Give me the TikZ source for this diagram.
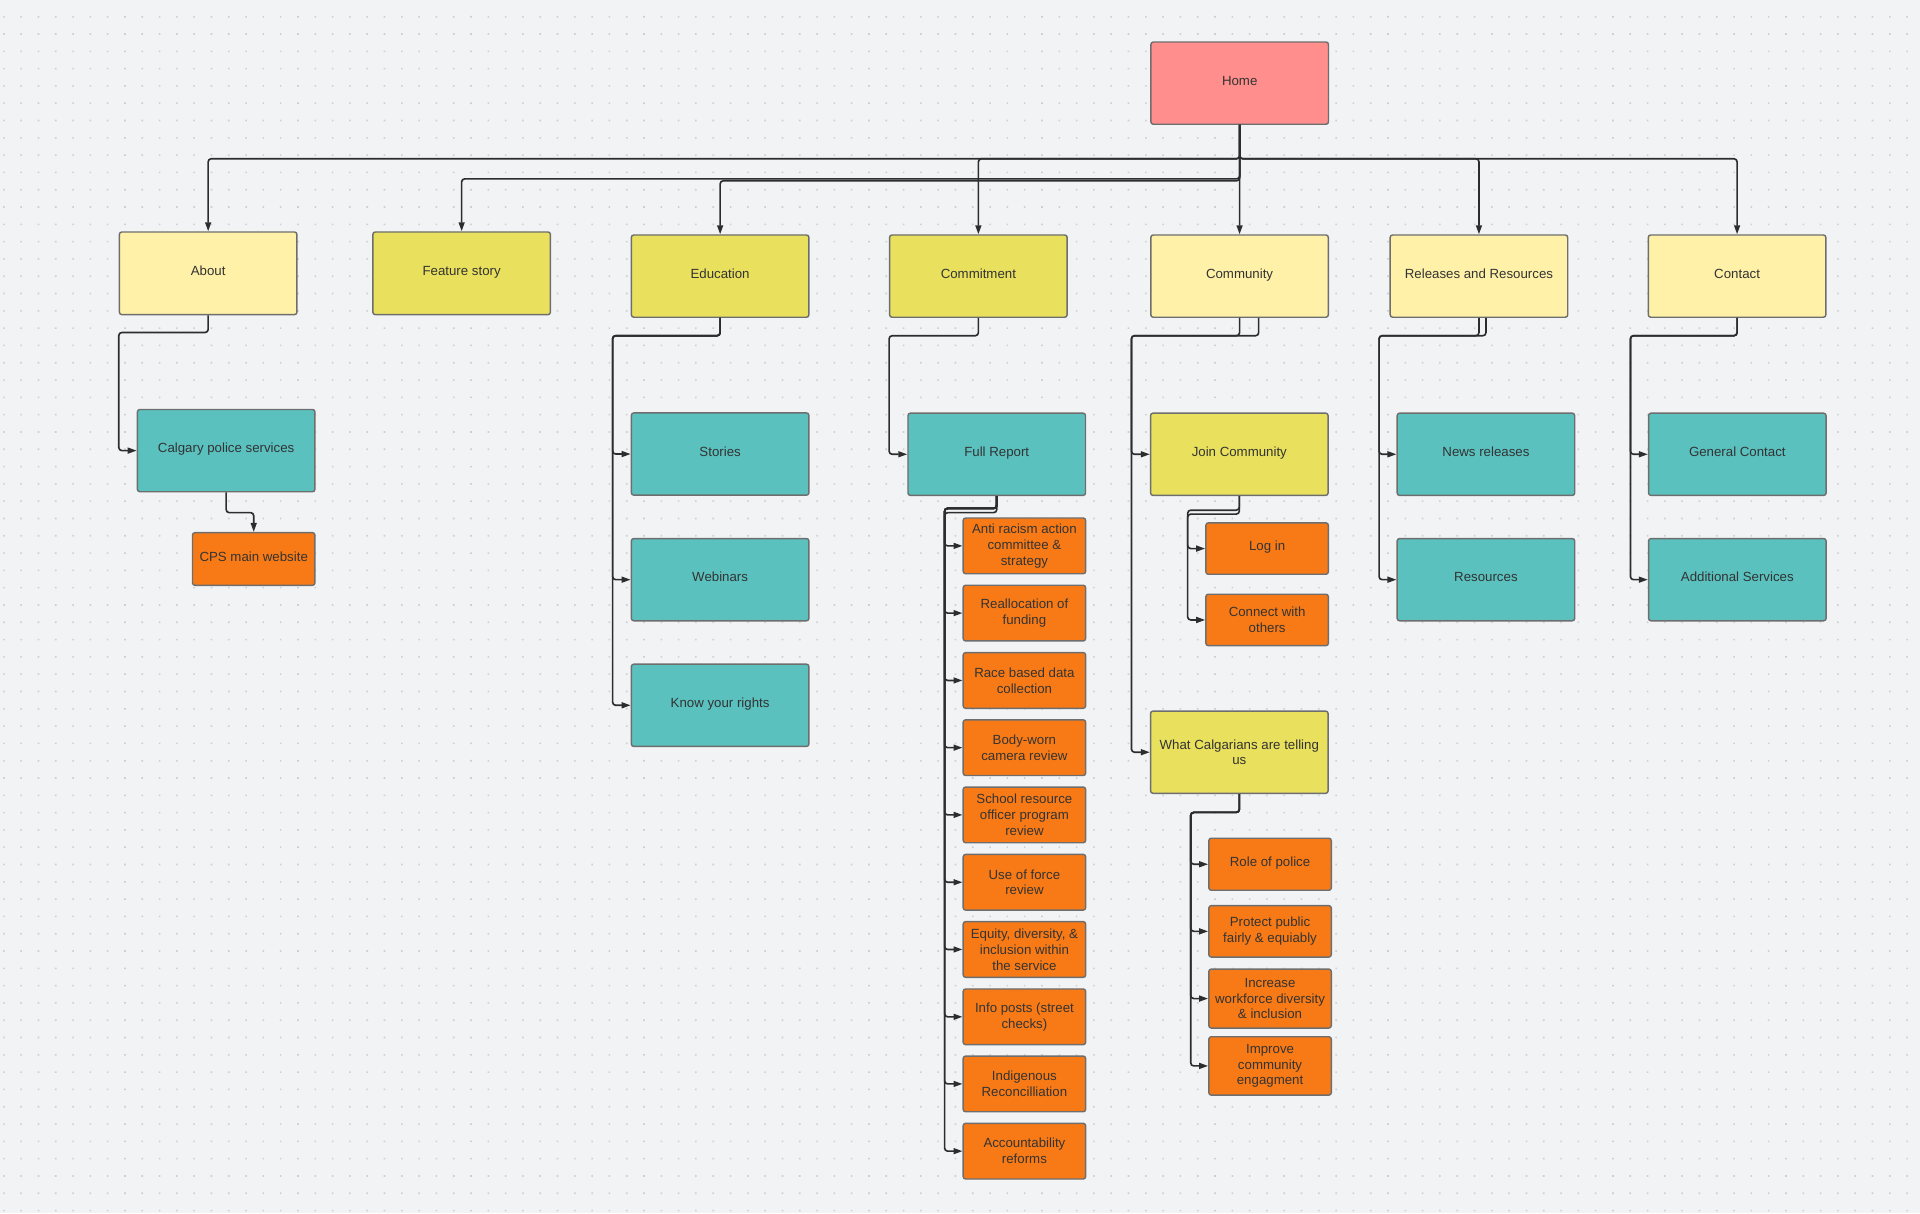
\documentclass[tikz,border=0pt]{standalone}
\usepackage{fontspec}
\setmainfont{Liberation Sans}
\usetikzlibrary{arrows.meta, calc}
\definecolor{canvas}{RGB}{242, 243, 245}
\definecolor{griddot}{RGB}{204, 207, 212}
\definecolor{homepink}{RGB}{255, 142, 140}
\definecolor{paleyellow}{RGB}{255, 241, 168}
\definecolor{sectyellow}{RGB}{233, 225, 93}
\definecolor{pageteal}{RGB}{90, 193, 191}
\definecolor{itemorange}{RGB}{248, 122, 22}
\definecolor{edgegray}{RGB}{110, 110, 110}
\definecolor{linkgray}{RGB}{45, 45, 45}
\definecolor{inkgray}{RGB}{51, 51, 51}

\begin{document}
\begin{tikzpicture}[x=0.6pt, y=-0.6pt,
  box/.style={draw=edgegray, line width=0.7pt, rounded corners=1.2pt, inner sep=1pt, align=center, text=inkgray, font=\fontsize{6.5}{7.75}\selectfont},
  page/.style={box, minimum width=87pt, minimum height=40.3pt},
  item/.style={box, minimum width=60pt, minimum height=27.3pt},
  oneline/.style={text height=4.7pt, text depth=2.5pt},
  link/.style={draw=linkgray, line width=0.8pt, rounded corners=1.5pt, -{Triangle[length=4.4pt, width=2.9pt]}}]

  % Canvas with dot grid
  \fill[canvas] (0, 0) rectangle (1568, 991);
  \foreach \j in {0,...,69} {
    \fill[griddot] \foreach \i in {0,...,110} {(2.5+14.13*\i, 13+14.13*\j) rectangle ++(1.3, 1.3)};
  }

  % Home
  \node[page, oneline, fill=homepink] (home) at (1012.4, 67.9) {Home};

  % Sections
  \node[page, oneline, fill=paleyellow, minimum height=40.5pt] (about) at (170, 223.2) {About};
  \node[page, oneline, fill=sectyellow, minimum height=40.5pt] (feature) at (377, 223.2) {Feature story};
  \node[page, oneline, fill=sectyellow] (education) at (588.1, 225.5) {Education};
  \node[page, oneline, fill=sectyellow] (commitment) at (799, 225.5) {Commitment};
  \node[page, oneline, fill=paleyellow] (community) at (1012.3, 225.5) {Community};
  \node[page, oneline, fill=paleyellow] (releases) at (1207.8, 225.5) {Releases and Resources};
  \node[page, oneline, fill=paleyellow] (contact) at (1418.6, 225.5) {Contact};

  % About pages
  \node[page, oneline, fill=pageteal] (calgary) at (184.7, 368) {Calgary police services};
  \node[item, oneline, fill=itemorange, minimum height=25.8pt] (cpsweb) at (207.2, 456.5) {CPS main website};

  % Education pages
  \node[page, oneline, fill=pageteal] (stories) at (588.1, 370.8) {Stories};
  \node[page, oneline, fill=pageteal] (webinars) at (588.1, 473.4) {Webinars};
  \node[page, oneline, fill=pageteal] (rights) at (588.1, 576) {Know your rights};

  % Commitment pages
  \node[page, oneline, fill=pageteal] (fullreport) at (814, 371) {Full Report};
  \node[item, fill=itemorange] (antiracism) at (836.6, 445.8) {Anti racism action\\committee \&\\strategy};
  \node[item, fill=itemorange] (realloc) at (836.6, 500.7) {Reallocation of\\funding};
  \node[item, fill=itemorange] (racedata) at (836.6, 555.7) {Race based data\\collection};
  \node[item, fill=itemorange] (bodycam) at (836.6, 610.6) {Body-worn\\camera review};
  \node[item, fill=itemorange] (schoolres) at (836.6, 665.5) {School resource\\officer program\\review};
  \node[item, fill=itemorange] (useforce) at (836.6, 720.5) {Use of force\\review};
  \node[item, fill=itemorange] (equity) at (836.6, 775.4) {Equity, diversity, \&\\inclusion within\\the service};
  \node[item, fill=itemorange] (infoposts) at (836.6, 830.4) {Info posts (street\\checks)};
  \node[item, fill=itemorange] (indigenous) at (836.6, 885.2) {Indigenous\\Reconcilliation};
  \node[item, fill=itemorange] (account) at (836.6, 940.1) {Accountability\\reforms};

  % Community pages
  \node[page, oneline, fill=sectyellow] (join) at (1012.1, 371) {Join Community};
  \node[item, oneline, fill=itemorange, minimum height=25.2pt] (login) at (1034.8, 448) {Log in};
  \node[item, fill=itemorange, minimum height=25.2pt] (connect) at (1034.8, 506.3) {Connect with\\others};
  \node[page, fill=sectyellow] (calgarians) at (1012.1, 614.3) {What Calgarians are telling\\us};
  \node[item, oneline, fill=itemorange, minimum height=25.5pt] (role) at (1037.2, 705.8) {Role of police};
  \node[item, fill=itemorange, minimum height=25.2pt] (protect) at (1037.2, 760.6) {Protect public\\fairly \& equiably};
  \node[item, fill=itemorange, minimum height=28.9pt] (increase) at (1037.2, 815.5) {Increase\\workforce diversity\\\& inclusion};
  \node[item, fill=itemorange, minimum height=28.6pt] (improve) at (1037.2, 870.5) {Improve\\community\\engagment};

  % Releases and contact pages
  \node[page, oneline, fill=pageteal] (news) at (1213.5, 371) {News releases};
  \node[page, oneline, fill=pageteal] (resources) at (1213.5, 473.4) {Resources};
  \node[page, oneline, fill=pageteal] (general) at (1418.8, 371) {General Contact};
  \node[page, oneline, fill=pageteal] (additional) at (1418.8, 473.4) {Additional Services};

  % Home to sections
  \draw[link] (home.south) -- ++(0, 27.6) -| (about.north);
  \draw[link] (home.south) -- ++(0, 44) -| (feature.north);
  \draw[link] (home.south) -- ++(0, 45.6) -| (education.north);
  \draw[link] (home.south) -- ++(0, 27.6) -| (commitment.north);
  \draw[link] (home.south) -- (community.north);
  \draw[link] (home.south) -- ++(0, 27.6) -| (releases.north);
  \draw[link] (home.south) -- ++(0, 27.6) -| (contact.north);

  % About
  \draw[link] (about.south) -- ++(0, 14) -| ($(calgary.west)+(-14.6, 0)$) -- (calgary.west);
  \draw[link] (calgary.south) -- ++(0, 16.5) -| (cpsweb.north);

  % Education
  \draw[link] (education.south) -- ++(0, 14.5) -| ($(stories.west)+(-14.7, 0)$) -- (stories.west);
  \draw[link] (education.south) -- ++(0, 14.5) -| ($(webinars.west)+(-14.7, 0)$) -- (webinars.west);
  \draw[link] (education.south) -- ++(0, 14.5) -| ($(rights.west)+(-14.7, 0)$) -- (rights.west);

  % Commitment
  \draw[link] (commitment.south) -- ++(0, 14.5) -| ($(fullreport.west)+(-14.8, 0)$) -- (fullreport.west);
  \draw[link] (fullreport.south) -- ++(0, 13.5) -| ($(antiracism.west)+(-14.6, 0)$) -- (antiracism.west);
  \draw[link] (fullreport.south) -- ++(0, 10) -| ($(realloc.west)+(-14.6, 0)$) -- (realloc.west);
  \draw[link] (fullreport.south) -- ++(0, 10) -| ($(racedata.west)+(-14.6, 0)$) -- (racedata.west);
  \draw[link] (fullreport.south) -- ++(0, 10) -| ($(bodycam.west)+(-14.6, 0)$) -- (bodycam.west);
  \draw[link] (fullreport.south) -- ++(0, 10) -| ($(schoolres.west)+(-14.6, 0)$) -- (schoolres.west);
  \draw[link] (fullreport.south) -- ++(0, 10) -| ($(useforce.west)+(-14.6, 0)$) -- (useforce.west);
  \draw[link] (fullreport.south) -- ++(0, 10) -| ($(equity.west)+(-14.6, 0)$) -- (equity.west);
  \draw[link] (fullreport.south) -- ++(0, 10) -| ($(infoposts.west)+(-14.6, 0)$) -- (infoposts.west);
  \draw[link] (fullreport.south) -- ++(0, 10) -| ($(indigenous.west)+(-14.6, 0)$) -- (indigenous.west);
  \draw[link] (fullreport.south) -- ++(0, 10) -| ($(account.west)+(-14.6, 0)$) -- (account.west);

  % Community
  \draw[link] (community.south) -- ++(0, 14.5) -| ($(join.west)+(-15, 0)$) -- (join.west);
  \draw[link] ($(community.south)+(15.6, 0)$) -- ++(0, 14.5) -| ($(calgarians.west)+(-15, 0)$) -- (calgarians.west);
  \draw[link] (join.south) -- ++(0, 11.5) -| ($(login.west)+(-14.3, 0)$) -- (login.west);
  \draw[link] (join.south) -- ++(0, 14.7) -| ($(connect.west)+(-14.3, 0)$) -- (connect.west);
  \draw[link] (calgarians.south) -- ++(0, 15) -| ($(role.west)+(-14.2, 0)$) -- (role.west);
  \draw[link] (calgarians.south) -- ++(0, 15) -| ($(protect.west)+(-14.2, 0)$) -- (protect.west);
  \draw[link] (calgarians.south) -- ++(0, 15) -| ($(increase.west)+(-14.2, 0)$) -- (increase.west);
  \draw[link] (calgarians.south) -- ++(0, 15) -| ($(improve.west)+(-14.2, 0)$) -- (improve.west);

  % Releases and contact
  \draw[link] (releases.south) -- ++(0, 14.5) -| ($(news.west)+(-14.2, 0)$) -- (news.west);
  \draw[link] ($(releases.south)+(5.7, 0)$) -- ++(0, 14.5) -| ($(resources.west)+(-14.2, 0)$) -- (resources.west);
  \draw[link] (contact.south) -- ++(0, 14.5) -| ($(general.west)+(-14.2, 0)$) -- (general.west);
  \draw[link] (contact.south) -- ++(0, 14.5) -| ($(additional.west)+(-14.2, 0)$) -- (additional.west);
\end{tikzpicture}
\end{document}
